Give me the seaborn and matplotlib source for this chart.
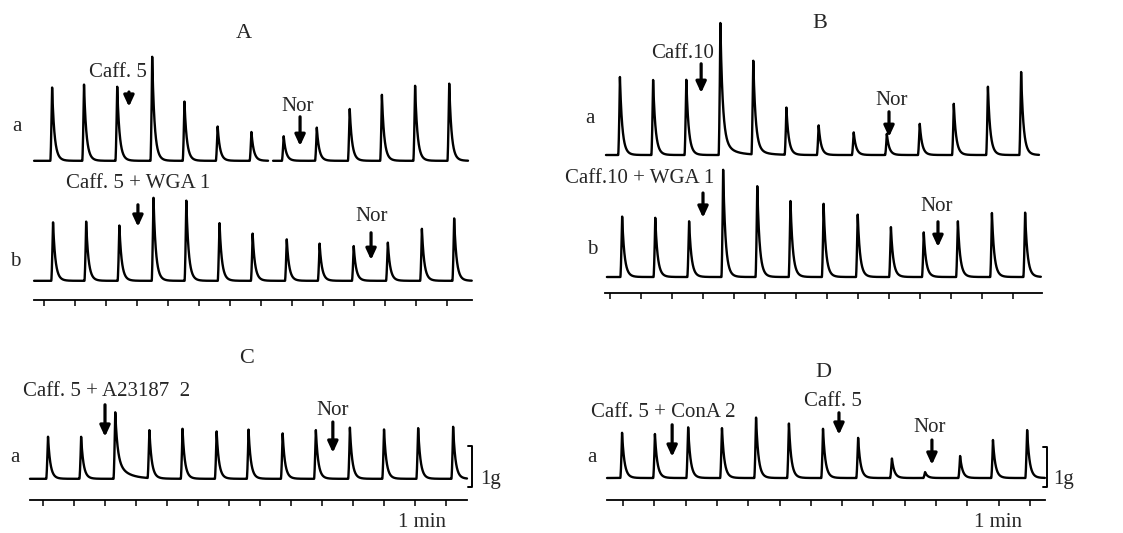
import numpy as np
import pandas as pd
import seaborn as sns
import matplotlib.pyplot as plt

# twitch peaks: time of each peak (min from first time mark) and height (g)
A_a_min = [0.26, 1.29, 2.36, 3.49, 4.53, 5.60, 6.69, 7.73, 8.80, 9.86, 10.90, 11.97, 13.07]
A_a_g = [1.88, 1.93, 1.90, 2.60, 1.50, 0.88, 0.73, 0.63, 0.83, 1.33, 1.65, 1.90, 1.98]
A_b_min = [0.29, 1.36, 2.43, 3.53, 4.59, 5.66, 6.73, 7.83, 8.89, 9.99, 11.09, 12.19, 13.23]
A_b_g = [1.50, 1.48, 1.40, 2.13, 2.03, 1.48, 1.18, 1.05, 0.93, 0.88, 0.98, 1.30, 1.58]
B_a_min = [0.32, 1.39, 2.46, 3.56, 4.62, 5.69, 6.73, 7.86, 8.93, 9.99, 11.09, 12.19, 13.26]
B_a_g = [1.95, 1.90, 1.93, 3.30, 2.40, 1.18, 0.75, 0.58, 0.53, 0.80, 1.28, 1.73, 2.13]
B_b_min = [0.39, 1.46, 2.55, 3.65, 4.75, 5.82, 6.89, 7.99, 9.06, 10.12, 11.22, 12.32, 13.39]
B_b_g = [1.55, 1.48, 1.43, 2.68, 2.30, 1.95, 1.83, 1.58, 1.28, 1.13, 1.43, 1.60, 1.63]
C_a_min = [0.16, 1.23, 2.33, 3.43, 4.50, 5.60, 6.63, 7.73, 8.80, 9.90, 11.00, 12.10, 13.23]
C_a_g = [1.08, 1.05, 1.68, 1.23, 1.25, 1.20, 1.23, 1.15, 1.25, 1.28, 1.25, 1.30, 1.30]
D_a_min = [-0.03, 1.02, 2.08, 3.16, 4.25, 5.30, 6.39, 7.51, 8.59, 9.65, 10.77, 11.82, 12.91]
D_a_g = [1.13, 1.10, 1.30, 1.28, 1.53, 1.38, 1.23, 1.03, 0.50, 0.15, 0.55, 0.95, 1.23]

# share of a twitch that relaxes only slowly (caffeine contractures)
B_a_tail = [0, 0, 0, 0.10, 0.05, 0, 0, 0, 0, 0, 0, 0, 0]
C_a_tail = [0, 0, 0.25, 0, 0, 0, 0, 0, 0, 0, 0, 0, 0]

# drug additions (min)
A_a_drug_min = [2.74, 8.26]
A_a_drug = ["Caff. 5", "Nor"]
A_b_drug_min = [3.03, 10.55]
A_b_drug = ["Caff. 5 + WGA 1", "Nor"]
B_a_drug_min = [2.94, 9.00]
B_a_drug = ["Caff.10", "Nor"]
B_b_drug_min = [3.00, 10.58]
B_b_drug = ["Caff.10 + WGA 1", "Nor"]
C_a_drug_min = [2.00, 9.35]
C_a_drug = ["Caff. 5 + A23187  2", "Nor"]
D_a_drug_min = [1.57, 6.90, 9.87]
D_a_drug = ["Caff. 5 + ConA 2", "Caff. 5", "Nor"]

time_marks = list(range(14))

RISE = 0.055
TAU_F, TAU_M, TAU_S = 0.07, 0.12, 0.35
W, H = 1123, 533
PPG = 40.0  # px per g
FS = 15

sns.set_theme(style="white")
plt.rcParams["font.family"] = ["Liberation Serif", "DejaVu Serif"]

fig = plt.figure(figsize=(W / 100, H / 100), dpi=100)


def trace(times, amps, t0, t1, offset, tails=None, gap=None):
    t = np.arange(t0, t1, 0.003)
    y = np.zeros_like(t)
    if tails is None:
        tails = [0] * len(times)
    for tp, a, s in zip(times, amps, tails):
        dt = t - (tp - RISE)
        r = (dt >= 0) & (dt < RISE)
        y[r] += a * (dt[r] / RISE) ** 1.5
        d = t - tp
        m = d >= 0
        fast = 0.8 * np.exp(-d[m] / TAU_F) + 0.2 * np.exp(-d[m] / TAU_M)
        y[m] += a * ((1 - s) * fast + s * np.exp(-d[m] / TAU_S))
    seg = np.zeros(len(t), dtype=int)
    keep = np.ones(len(t), dtype=bool)
    if gap is not None:
        seg[t >= gap[1]] = 1
        keep = (t <= gap[0]) | (t >= gap[1])
    return pd.DataFrame({"t": t[keep], "g": y[keep] + offset, "seg": seg[keep]})


def panel(box, origin, ppm, bounds):
    x0, y0, x1, y1 = box
    ax = fig.add_axes([x0 / W, 1 - y1 / H, (x1 - x0) / W, (y1 - y0) / H])
    ax.set_xlim((x0 - origin[0]) / ppm, (x1 - origin[0]) / ppm)
    ax.set_ylim((origin[1] - y1) / PPG, (origin[1] - y0) / PPG)
    ax.set_facecolor("none")
    for s in ["top", "left", "right"]:
        ax.spines[s].set_visible(False)
    sp = ax.spines["bottom"]
    sp.set_position(("data", 0))
    sp.set_bounds(*bounds)
    sp.set_color("black")
    sp.set_linewidth(1.3)
    ax.set_xticks(time_marks)
    ax.set_xticklabels([])
    ax.set_yticks([])
    ax.tick_params(axis="x", bottom=True, direction="out", length=4,
                   width=1.1, colors="black")
    return ax


def draw(ax, df):
    sns.lineplot(data=df, x="t", y="g", units="seg", estimator=None, sort=False,
                 color="black", lw=1.7, ax=ax)
    ax.set_xlabel("")
    ax.set_ylabel("")


def mark(ax, t, label, tx, ty, tail, tip):
    ax.text(tx, ty, label, ha="center", va="baseline", fontsize=FS)
    ax.annotate("", xy=(t, tip), xytext=(t, tail),
                arrowprops=dict(arrowstyle="-|>,head_length=0.65,head_width=0.3",
                                mutation_scale=10, lw=2.3, color="black",
                                shrinkA=0, shrinkB=0))


def scale_bar(ax, x, lo, hi, tx):
    ax.plot([x - 0.13, x, x, x - 0.13], [hi, hi, lo, lo], color="black", lw=1.4)
    ax.text(tx, 0.4, "1g", ha="left", va="baseline", fontsize=FS)


# A
ax = panel((0, 0, 561, 320), (44, 300), 31.0, (-0.32, 13.8))
draw(ax, trace(A_a_min, A_a_g, -0.32, 13.68, 3.48, gap=(7.23, 7.39)))
draw(ax, trace(A_b_min, A_b_g, -0.32, 13.8, 0.48))
ax.text(6.45, 6.55, "A", ha="center", va="baseline", fontsize=16)
ax.text(-0.87, 4.23, "a", ha="center", va="baseline", fontsize=FS)
ax.text(-0.94, 0.85, "b", ha="center", va="baseline", fontsize=FS)
mark(ax, A_a_drug_min[0], A_a_drug[0], 2.39, 5.58, 5.2, 4.83)
mark(ax, A_a_drug_min[1], A_a_drug[1], 8.19, 4.73, 4.58, 3.85)
mark(ax, A_b_drug_min[0], A_b_drug[0], 3.03, 2.8, 2.38, 1.83)
mark(ax, A_b_drug_min[1], A_b_drug[1], 10.58, 1.98, 1.68, 1.0)

# B
ax = panel((561, 0, 1123, 320), (610, 293), 31.0, (-0.16, 13.94))
draw(ax, trace(B_a_min, B_a_g, -0.13, 13.84, 3.45, tails=B_a_tail))
draw(ax, trace(B_b_min, B_b_g, -0.10, 13.9, 0.40))
ax.text(6.77, 6.63, "B", ha="center", va="baseline", fontsize=16)
ax.text(-0.65, 4.25, "a", ha="center", va="baseline", fontsize=FS)
ax.text(-0.58, 0.98, "b", ha="center", va="baseline", fontsize=FS)
mark(ax, B_a_drug_min[0], B_a_drug[0], 2.35, 5.88, 5.73, 5.0)
mark(ax, B_a_drug_min[1], B_a_drug[1], 9.10, 4.7, 4.53, 3.9)
mark(ax, B_b_drug_min[0], B_b_drug[0], 0.97, 2.75, 2.5, 1.88)
mark(ax, B_b_drug_min[1], B_b_drug[1], 10.55, 2.05, 1.78, 1.15)

# C
ax = panel((0, 320, 561, 533), (43, 500), 31.0, (-0.42, 13.68))
draw(ax, trace(C_a_min, C_a_g, -0.42, 13.68, 0.53, tails=C_a_tail))
ax.text(6.58, 3.43, "C", ha="center", va="baseline", fontsize=16)
ax.text(-0.9, 0.95, "a", ha="center", va="baseline", fontsize=FS)
mark(ax, C_a_drug_min[0], C_a_drug[0], 2.06, 2.6, 2.38, 1.58)
mark(ax, C_a_drug_min[1], C_a_drug[1], 9.35, 2.13, 1.95, 1.18)
scale_bar(ax, 13.84, 0.33, 1.35, 14.1)
ax.text(12.23, -0.68, "1 min", ha="center", va="baseline", fontsize=FS)

# D
ax = panel((561, 320, 1123, 533), (623, 500), 31.3, (-0.51, 13.48))
draw(ax, trace(D_a_min, D_a_g, -0.51, 13.48, 0.55))
ax.text(6.39, 3.08, "D", ha="center", va="baseline", fontsize=16)
ax.text(-0.99, 0.95, "a", ha="center", va="baseline", fontsize=FS)
mark(ax, D_a_drug_min[0], D_a_drug[0], 1.28, 2.08, 1.88, 1.08)
mark(ax, D_a_drug_min[1], D_a_drug[1], 6.71, 2.35, 2.18, 1.63)
mark(ax, D_a_drug_min[2], D_a_drug[2], 9.81, 1.7, 1.5, 0.88)
scale_bar(ax, 13.55, 0.33, 1.33, 13.74)
ax.text(11.98, -0.68, "1 min", ha="center", va="baseline", fontsize=FS)

fig.savefig("out.png", dpi=100)
